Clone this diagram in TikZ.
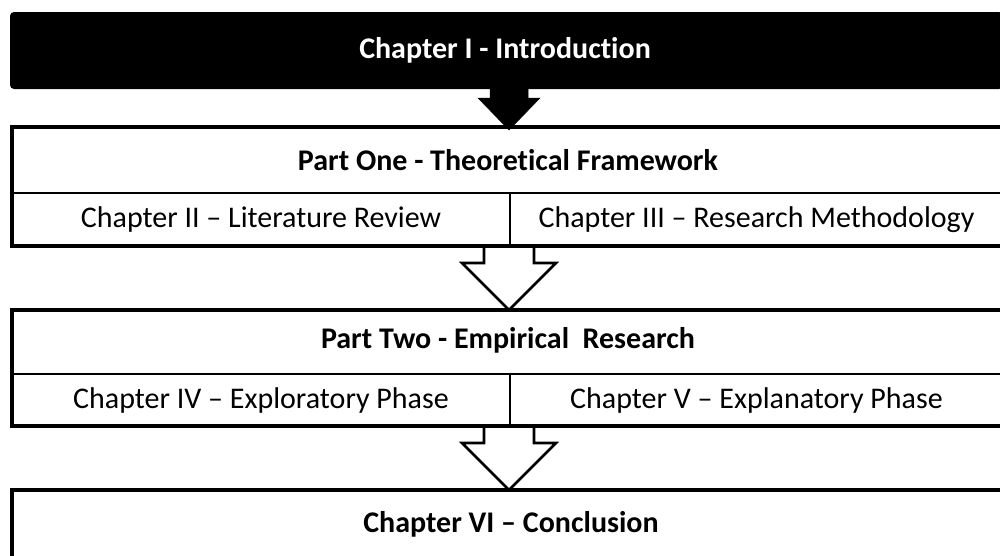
\documentclass[tikz,border=0pt]{standalone}
\usepackage{fontspec}
\setmainfont[Ligatures=NoCommon]{Carlito}
\usetikzlibrary{calc}
\begin{document}
\begin{tikzpicture}[x=1pt,y=-1pt,
  boldlbl/.style={font=\fontsize{30}{36}\selectfont\bfseries, text=black, inner sep=0pt},
  cell/.style={draw=black, line width=1.5pt, fill=white, inner sep=0pt, outer sep=0pt, anchor=north west,
    font=\fontsize{30}{36}\selectfont, text=black},
  outerbox/.style={draw=black, line width=4pt, inner sep=0pt, outer sep=0pt, anchor=north west},
  blackbox/.style={fill=black, rounded corners=4pt, inner sep=0pt, outer sep=0pt, anchor=north west},
  whitearrow/.style={draw=black, fill=white, line width=2.6pt, line join=miter},
  blackarrow/.style={fill=black, draw=black, line width=0.5pt}
]
\useasboundingbox (0,0) rectangle (1000,555);
\clip (0,0) rectangle (1000,555);

% Chapter I
\node[blackbox, minimum width=993pt, minimum height=77pt] (intro) at (10,12) {};
\node[boldlbl, text=white] (introt) at (505,50) {Chapter I - Introduction};

% Part One
\node[cell, minimum width=991pt, minimum height=66pt] (p1top) at (12,127) {};
\node[cell, minimum width=498pt, minimum height=53pt] (lit) at (12,193) {Chapter II – Literature Review};
\node[cell, minimum width=493pt, minimum height=53pt] (meth) at (510,193) {Chapter III – Research Methodology};
\node[boldlbl] (p1t) at (508,160) {Part One - Theoretical Framework};

% Part Two
\node[cell, minimum width=991pt, minimum height=64pt] (p2top) at (12,310) {};
\node[cell, minimum width=498pt, minimum height=52pt] (expl) at (12,374) {Chapter IV – Exploratory Phase};
\node[cell, minimum width=493pt, minimum height=52pt] (expn) at (510,374) {Chapter V – Explanatory Phase};
\node[boldlbl] (p2t) at (508,340) {Part Two - Empirical\ \ Research};

% Chapter VI
\node[cell, minimum width=991pt, minimum height=100pt] (concl) at (12,490) {};
\node[boldlbl] (conclt) at (511,524) {Chapter VI – Conclusion};

% black arrow from Chapter I to Part One
\coordinate (s1) at ($(intro.south west)+(499,0)$);
\coordinate (t1) at ($(s1 |- p1top.north)+(0,3)$);
\fill[blackarrow] ($(s1)+(-19,-2)$) -- ($(s1)+(-19,9)$) -- ($(s1)+(-31,9)$) -- (t1)
  -- ($(s1)+(31,9)$) -- ($(s1)+(19,9)$) -- ($(s1)+(19,-2)$) -- cycle;

% white arrow from Part One to Part Two
\coordinate (s2) at ($(lit.south east)+(-1,0)$);
\coordinate (t2) at (s2 |- p2top.north);
\draw[whitearrow] ($(s2)+(-25,0)$) -- ($(s2)+(-25,17)$) -- ($(s2)+(-47,17)$) -- (t2)
  -- ($(s2)+(47,17)$) -- ($(s2)+(25,17)$) -- ($(s2)+(25,0)$);

% white arrow from Part Two to Chapter VI
\coordinate (s3) at ($(expl.south east)+(-1,0)$);
\coordinate (t3) at (s3 |- concl.north);
\draw[whitearrow] ($(s3)+(-25,0)$) -- ($(s3)+(-25,17)$) -- ($(s3)+(-47,17)$) -- (t3)
  -- ($(s3)+(47,17)$) -- ($(s3)+(25,17)$) -- ($(s3)+(25,0)$);

% thick outer borders
\node[outerbox, minimum width=991pt, minimum height=119pt] (p1) at (12,127) {};
\node[outerbox, minimum width=991pt, minimum height=116pt] (p2) at (12,310) {};
\node[outerbox, minimum width=991pt, minimum height=100pt] (p3) at (12,490) {};
\end{tikzpicture}
\end{document}
